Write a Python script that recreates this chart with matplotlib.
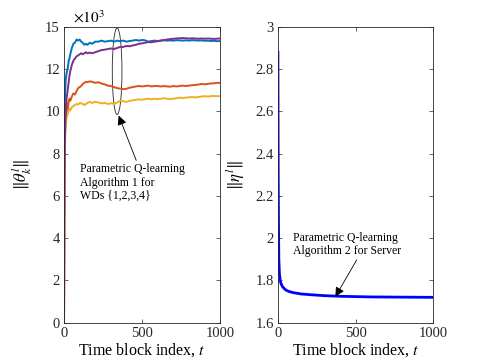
import matplotlib
matplotlib.use('Agg')
import matplotlib.pyplot as plt
import matplotlib.patches as mpatches

# MATLAB default colours
C_BLUE = '#0072BD'
C_RED = '#D95319'
C_YELLOW = '#EDB120'
C_PURPLE = '#7E2F8E'

# left panel: ||theta_k|| (x10^3) for the four WDs
t_wd = [0, 2, 4, 6, 8, 10, 13, 16, 20, 25, 30, 35, 40, 50, 60, 70, 80, 90, 100,
        110, 120, 130, 140, 150, 165, 180, 200, 220, 240, 260, 280, 300, 320,
        340, 360, 380, 400, 420, 440, 460, 480, 500, 520, 540, 560, 580, 600,
        620, 640, 660, 680, 700, 720, 740, 760, 780, 800, 820, 840, 860, 880,
        900, 920, 940, 960, 980, 1000]
wd1 = [0, 7.5, 9.5, 10.6, 11.0, 11.4, 11.6, 11.8, 11.9, 12.1, 12.4, 12.5, 12.7,
       13.0, 13.2, 13.25, 13.4, 13.35, 13.4, 13.3, 13.25, 13.15, 13.2, 13.15,
       13.25, 13.2, 13.3, 13.3, 13.35, 13.3, 13.32, 13.35, 13.3, 13.35, 13.32,
       13.35, 13.3, 13.33, 13.35, 13.38, 13.35, 13.38, 13.36, 13.3, 13.33,
       13.35, 13.33, 13.35, 13.37, 13.35, 13.36, 13.35, 13.37, 13.36, 13.35,
       13.36, 13.35, 13.37, 13.36, 13.35, 13.36, 13.34, 13.35, 13.33, 13.34,
       13.32, 13.33]
wd2 = [0, 4.5, 7.5, 8.8, 9.5, 9.9, 9.6, 10.2, 10.4, 10.1, 10.5, 10.6, 10.5,
       10.7, 10.85, 10.8, 10.95, 11.1, 11.15, 11.2, 11.3, 11.35, 11.4, 11.38,
       11.42, 11.4, 11.35, 11.38, 11.32, 11.28, 11.22, 11.2, 11.15, 11.1, 11.08,
       11.05, 11.07, 11.12, 11.15, 11.18, 11.2, 11.18, 11.2, 11.22, 11.18, 11.2,
       11.2, 11.18, 11.2, 11.18, 11.17, 11.2, 11.18, 11.2, 11.22, 11.2, 11.22,
       11.24, 11.25, 11.27, 11.3, 11.28, 11.3, 11.32, 11.33, 11.35, 11.35]
wd3 = [0, 3.5, 6.5, 8.2, 8.9, 9.3, 9.5, 9.7, 9.8, 9.9, 10.0, 10.1, 10.05,
       10.2, 10.25, 10.3, 10.35, 10.32, 10.4, 10.38, 10.35, 10.3, 10.35, 10.4,
       10.45, 10.4, 10.45, 10.42, 10.38, 10.4, 10.35, 10.38, 10.36, 10.42, 10.5,
       10.48, 10.45, 10.5, 10.52, 10.55, 10.57, 10.55, 10.58, 10.6, 10.57, 10.6,
       10.58, 10.6, 10.62, 10.6, 10.58, 10.6, 10.62, 10.65, 10.63, 10.65, 10.67,
       10.68, 10.66, 10.68, 10.7, 10.72, 10.7, 10.72, 10.73, 10.72, 10.72]
wd4 = [0, 5.0, 7.5, 8.8, 9.3, 9.8, 10.3, 10.6, 10.8, 11.1, 11.4, 11.7, 11.9,
       12.2, 12.4, 12.5, 12.6, 12.65, 12.7, 12.75, 12.7, 12.75, 12.8, 12.75,
       12.78, 12.75, 12.8, 12.85, 12.9, 12.92, 12.95, 12.98, 12.95, 13.0, 13.05,
       13.05, 13.1, 13.08, 13.12, 13.15, 13.2, 13.22, 13.25, 13.28, 13.27, 13.3,
       13.32, 13.35, 13.37, 13.4, 13.42, 13.44, 13.45, 13.46, 13.47, 13.46,
       13.45, 13.46, 13.45, 13.44, 13.45, 13.44, 13.45, 13.44, 13.43, 13.44,
       13.45]
left_yticks = [0, 2, 4, 6, 8, 10, 12, 14]
left_yticklabels = ['0', '2', '4', '6', '8', '10', '12', '15']

# right panel: ||eta|| for the server
t_srv = [0, 2, 4, 6, 10, 15, 20, 30, 50, 70, 100, 150, 200, 300, 400, 600, 1000]
eta = [2.88, 2.3, 2.05, 1.9, 1.83, 1.80, 1.785, 1.77, 1.755, 1.748, 1.742,
       1.736, 1.733, 1.728, 1.725, 1.722, 1.72]
right_yticks = [1.6, 1.8, 2, 2.2, 2.4, 2.6, 2.8, 3]
right_yticklabels = ['1.6', '1.8', '2', '2.2', '2.4', '2.6', '2.8', '3']
xticks = [0, 500, 1000]

plt.rcParams['font.family'] = ['Liberation Serif', 'DejaVu Serif']
plt.rcParams['mathtext.fontset'] = 'stix'

fig = plt.figure(figsize=(4.85, 3.63), dpi=100)
ax1 = fig.add_axes([0.132, 0.111, 0.322, 0.815])
ax2 = fig.add_axes([0.573, 0.111, 0.320, 0.815])

def style(ax):
    for s in ax.spines.values():
        s.set_linewidth(0.6)
        s.set_color('#262626')
    ax.tick_params(direction='in', top=True, right=True, length=3, width=0.5,
                   labelsize=10.5, colors='#262626', pad=3)
    ax.set_xlim(0, 1000)
    ax.set_xticks(xticks)
    ax.set_xlabel('Time block index, $t$', fontsize=11.5, labelpad=1)

# left
ax1.plot(t_wd, wd1, color=C_BLUE, lw=1.4)
ax1.plot(t_wd, wd2, color=C_RED, lw=1.4)
ax1.plot(t_wd, wd3, color=C_YELLOW, lw=1.4)
ax1.plot(t_wd, wd4, color=C_PURPLE, lw=1.4)
style(ax1)
ax1.set_ylim(0, 14)
ax1.set_yticks(left_yticks)
ax1.set_yticklabels(left_yticklabels)
ax1.set_ylabel(r'$\|\theta^{l}_{k}\|$', fontsize=12, labelpad=8)
ax1.text(0.06, 1.005, r'$\times10^3$', transform=ax1.transAxes, fontsize=11,
         va='bottom', ha='left')
ax1.add_patch(mpatches.Ellipse((340, 11.9), 62, 4.1, fill=False,
                               lw=0.6, color='#262626'))
ax1.annotate('Parametric Q-learning\nAlgorithm 1 for\nWDs {1,2,3,4}',
             xy=(350, 9.8), xytext=(100, 7.55), fontsize=8.5, va='top',
             ha='left', linespacing=1.15,
             arrowprops=dict(arrowstyle='-|>', color='black', lw=0.6,
                             mutation_scale=14, shrinkA=0, shrinkB=0,
                             relpos=(0.55, 1.0)))

# right
ax2.plot(t_srv, eta, color='#0000FF', lw=2)
style(ax2)
ax2.set_ylim(1.6, 3)
ax2.set_yticks(right_yticks)
ax2.set_yticklabels(right_yticklabels)
ax2.set_ylabel(r'$\|\eta^{l}\|$', fontsize=12, labelpad=6)
ax2.annotate('Parametric Q-learning\nAlgorithm 2 for Server',
             xy=(370, 1.723), xytext=(100, 2.03), fontsize=8.5, va='top',
             ha='left', linespacing=1.15,
             arrowprops=dict(arrowstyle='-|>', color='black', lw=0.6,
                             mutation_scale=14, shrinkA=0, shrinkB=0,
                             relpos=(0.6, 0.0)))

fig.savefig('out.png', dpi=100)
